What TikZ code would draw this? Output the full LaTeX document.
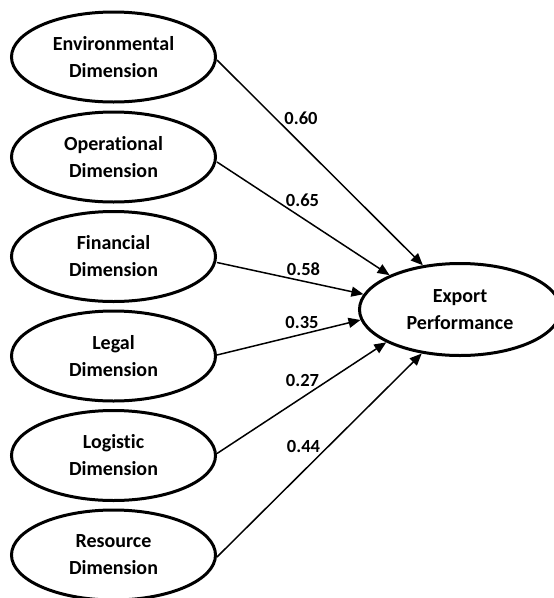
\documentclass[tikz,border=0pt]{standalone}
\usepackage{fontspec}
\setmainfont{Carlito}[Ligatures=NoCommon]
\usetikzlibrary{shapes.geometric,arrows.meta}
\begin{document}
\begin{tikzpicture}[x=1pt,y=-1pt,
  dim/.style={ellipse,draw,line width=3pt,minimum width=204pt,minimum height=90pt,inner sep=0pt,align=center,font=\bfseries\fontsize{20}{27}\selectfont},
  perf/.style={ellipse,draw,line width=3pt,minimum width=201pt,minimum height=92pt,inner sep=0pt,align=center,font=\bfseries\fontsize{20}{27}\selectfont},
  coef/.style={font=\bfseries\fontsize{18.5}{22}\selectfont,inner sep=0pt},
  path/.style={line width=1.5pt,-{Triangle[length=12pt,width=10pt]}}]
\useasboundingbox (0,0) rectangle (554,598);
\node[dim] (env) at (113.5,57) {Environmental\\Dimension};
\node[dim] (ope) at (113.5,157) {Operational\\Dimension};
\node[dim] (fin) at (113.5,256.5) {Financial\\Dimension};
\node[dim] (leg) at (113.5,356) {Legal\\Dimension};
\node[dim] (log) at (113.5,455.5) {Logistic\\Dimension};
\node[dim] (res) at (113.5,555) {Resource\\Dimension};
\node[perf] (exp) at (460,309.5) {Export\\Performance};
\draw[path] ([yshift=-3pt]env.east) -- (exp.130);
\draw[path] ([yshift=-5pt]ope.east) -- (exp.154);
\draw[path] ([yshift=-6pt]fin.east) -- (exp.171.5);
\draw[path] ([yshift=1pt]leg.east) -- (exp.186.5);
\draw[path] ([yshift=2pt]log.east) -- (exp.204);
\draw[path] ([yshift=-2pt]res.east) -- (exp.229.5);
\node[coef] (c1) at (301,118.5) {0.60};
\node[coef] (c2) at (302.5,200) {0.65};
\node[coef] (c3) at (303.5,269.5) {0.58};
\node[coef] (c4) at (302,322.5) {0.35};
\node[coef] (c5) at (302.5,380) {0.27};
\node[coef] (c6) at (303.5,446.5) {0.44};
\end{tikzpicture}
\end{document}
